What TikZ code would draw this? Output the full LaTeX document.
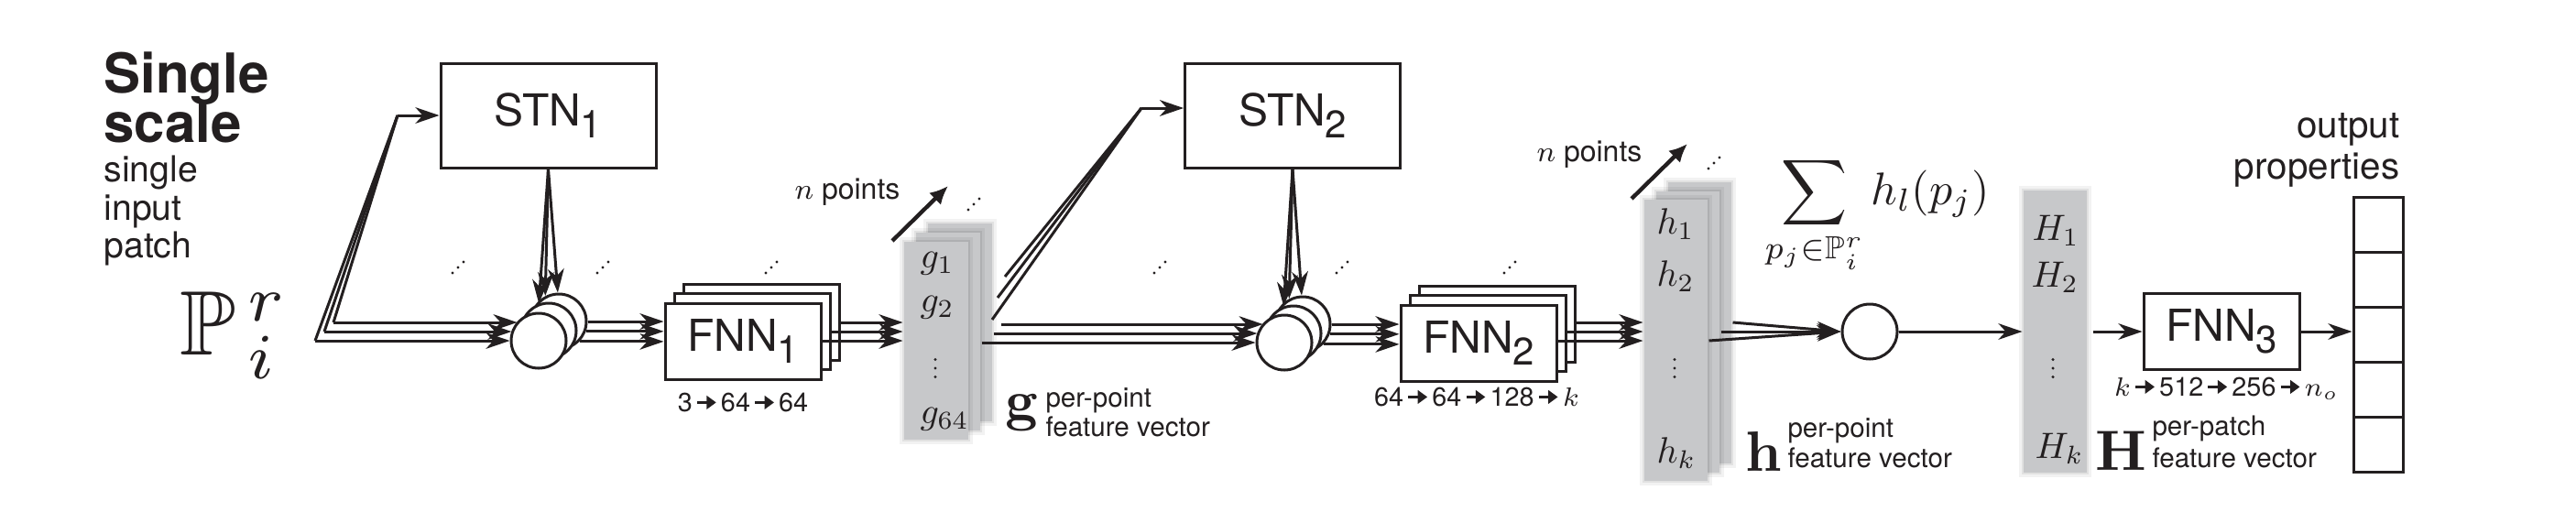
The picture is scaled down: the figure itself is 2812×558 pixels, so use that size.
\RequirePackage{fix-cm}
\documentclass[tikz,border=0pt]{standalone}
\usepackage{amssymb}
\usepackage{graphicx}
\usepackage[no-math]{fontspec}
\newfontfamily\hv{TeX Gyre Heros}
\usetikzlibrary{arrows.meta}
\definecolor{ink}{RGB}{35,31,32}
\definecolor{slabgray}{RGB}{199,200,202}
\newcommand\fsz[1]{\fontsize{#1}{#1}\selectfont}
\newcommand\mth[2]{\scalebox{#1}{$#2$}}
\newcommand\lsub[1]{\kern-0.2pt\raisebox{-3.2pt}{\fsz{10.5}#1}}
\newcommand\sarr{\kern0.9pt\tikz[baseline=0pt]\draw[ink,line width=0.8pt,-{Triangle[length=2.6pt,width=3.6pt]}](0pt,2.4pt)--(5.2pt,2.4pt);\kern0.9pt}
\newcommand\diagdots[2]{\fill[ink] ({#1-6},{#2+6}) circle[radius=1.7] (#1,#2) circle[radius=1.7] ({#1+6},{#2-6}) circle[radius=1.7];}
\newcommand\vdotsat[2]{\fill[ink] (#1,{#2-9.5}) circle[radius=1.7] (#1,#2) circle[radius=1.7] (#1,{#2+9.5}) circle[radius=1.7];}
\tikzset{
  netbox/.style={draw=ink,fill=white,line width=0.75pt,inner sep=0pt,font=\hv\fsz{12}},
  stnbox/.style={netbox,minimum width=58.75pt,minimum height=28.5pt},
  fnnbox/.style={netbox,minimum width=42.5pt,minimum height=20.75pt},
  sumnode/.style={circle,draw=ink,fill=white,line width=0.75pt,minimum size=15pt,inner sep=0pt},
  slab/.style={fill=slabgray,inner sep=0pt,
    preaction={draw=black,draw opacity=0.05,line width=2.6pt},
    preaction={draw=black,draw opacity=0.07,line width=1.2pt}},
  gslab/.style={slab,minimum width=17.5pt,minimum height=54pt},
  hslab/.style={slab,minimum width=17.25pt,minimum height=76.75pt},
  npts/.style={draw=ink,line width=1.1pt,-{Latex[length=5pt,width=4.6pt]}},
  txt/.style={inner sep=0pt,anchor=base west},
  mtxt/.style={inner sep=0pt,anchor=base west,font=\fsz{10}},
  outcell/.style={draw=ink,line width=0.75pt,minimum width=13.5pt,minimum height=15pt,inner sep=0pt},
}
\begin{document}
\begin{tikzpicture}[x=0.25pt,y=-0.25pt,line width=0.75pt,color=ink,
  >={Stealth[length=6.5pt,width=4.4pt,inset=2pt]}]
\useasboundingbox (0,0) rectangle (2812,558);

% ---------- left texts
\node[txt,font=\hv\bfseries\fsz{15}] (t1) at (112,101) {Single};
\node[txt,font=\hv\bfseries\fsz{15}] (t2) at (112,155) {scale};
\node[txt,font=\hv\fsz{9.8}] (t3) at (112,198) {single};
\node[txt,font=\hv\fsz{9.8}] (t4) at (112,240) {input};
\node[txt,font=\hv\fsz{9.8}] (t5) at (112,281) {patch};
\node[mtxt] (P) at (195,387) {\mth{2.5}{\mathbb{P}_{\kern1.3pt i}^{\kern1.3pt r}}};

% lane heights
\coordinate (ya) at (0,372); \coordinate (yb) at (0,362); \coordinate (yc) at (0,352);
\coordinate (ya2) at (0,374); \coordinate (yb2) at (0,364); \coordinate (yc2) at (0,354);

% ---------- stage 1
\coordinate (s1a) at (344,372); \coordinate (s1b) at (354,362); \coordinate (s1c) at (364,352);
\coordinate (j1) at (434,126);
\node[stnbox] (stn1) at (598.5,126) {STN\lsub{1}};
\node[sumnode] (c1c) at (610,351) {};
\node[sumnode] (c1b) at (599,361) {};
\node[sumnode] (c1a) at (588,372) {};
\draw (s1a) -- (j1); \draw (s1b) -- (j1); \draw (s1c) -- (j1);
\draw[->] (j1) -- (stn1.west);
\draw[->] (s1a) -- (s1a -| c1a.180);
\draw[->] (s1b) -- (s1b -| c1a.160);
\draw[->] (s1c) -- (s1c -| c1a.138);
\draw[->] (stn1.south) -- (c1b.110);
\draw[->] (stn1.south) -- (c1c.118);
\draw[->] (stn1.south) -- (c1c.92);
\diagdots{500}{292}
\diagdots{658}{292}

\node[fnnbox] (f1c) at (831,351.5) {};
\node[fnnbox] (f1b) at (821,362) {};
\node[fnnbox] (f1a) at (811,372.5) {FNN\lsub{1}};
\coordinate (c1o1) at (c1c.east);
\coordinate (c1o2) at (c1c.-20);
\coordinate (c1o3) at (c1c.-44);
\draw[->] (c1o1) -- (c1o1 -| f1a.west);
\draw[->] (c1o2) -- (c1o2 -| f1a.west);
\draw[->] (c1o3) -- (c1o3 -| f1a.west);
\node[inner sep=0pt,anchor=base,font=\hv\fsz{7.2}] (f1l) at (811,449) {3\sarr 64\sarr 64};
\diagdots{842}{292}

% g stack
\node[gslab] (g3) at (1048,352) {};
\node[gslab] (g2) at (1035,362) {};
\node[gslab] (g1) at (1022,372) {};
\node[mtxt] (g1t) at (1003,292) {$g_1$};
\node[mtxt] (g2t) at (1003,340) {$g_2$};
\vdotsat{1021}{402}
\node[mtxt] (g64t) at (1003,462) {$g_{64}$};
\draw[->] (f1c.east |- yc) -- (g1.west |- yc);
\draw[->] (f1b.east |- yb) -- (g1.west |- yb);
\draw[->] (f1a.east |- ya) -- (g1.west |- ya);
\node[txt,font=\hv\fsz{8}] (np1) at (866,217) {$n$ points};
\coordinate (na1) at (974,263); \coordinate (nb1) at (1035,203);
\draw[npts] (na1) -- (nb1);
\diagdots{1063}{223}
\node[mtxt] (gb) at (1096,458) {\mth{1.55}{\mathbf{g}}};
\node[txt,font=\hv\fsz{7.4}] (gpp) at (1140,444) {per-point};
\node[txt,font=\hv\fsz{7.4}] (gfv) at (1140,476) {feature vector};

% ---------- stage 2
\node[stnbox] (stn2) at (1411,126) {STN\lsub{2}};
\node[sumnode] (c2c) at (1422,354) {};
\node[sumnode] (c2b) at (1412,364) {};
\node[sumnode] (c2a) at (1402,374) {};
\coordinate (g3r) at ([xshift=2pt]g3.east);
\draw[->] (g2.east |- ya2) -- (ya2 -| c2a.180);
\draw[->] (g3.east |- yb2) -- (yb2 -| c2a.160);
\draw[->] (g3r |- yc2) -- (yc2 -| c2a.138);
\coordinate (d2a) at (1083,349); \coordinate (d2b) at (1089,325); \coordinate (d2c) at (1097,302);
\coordinate (j2) at (1246,118);
\draw (d2a) -- (j2); \draw (d2b) -- (j2); \draw (d2c) -- (j2);
\draw[->] (j2) -- (j2 -| stn2.west);
\draw[->] (stn2.south) -- (c2b.110);
\draw[->] (stn2.south) -- (c2c.118);
\draw[->] (stn2.south) -- (c2c.92);
\diagdots{1266}{292}
\diagdots{1465}{292}

\node[fnnbox] (f2c) at (1634,353.5) {};
\node[fnnbox] (f2b) at (1624,364) {};
\node[fnnbox] (f2a) at (1614,374.5) {FNN\lsub{2}};
\coordinate (c2o1) at (c2c.east);
\coordinate (c2o2) at (c2c.-20);
\coordinate (c2o3) at (c2c.-44);
\draw[->] (c2o1) -- (c2o1 -| f2a.west);
\draw[->] (c2o2) -- (c2o2 -| f2a.west);
\draw[->] (c2o3) -- (c2o3 -| f2a.west);
\node[inner sep=0pt,anchor=base,font=\hv\fsz{7.2}] (f2l) at (1612,443) {64\sarr 64\sarr 128\sarr $k$};
\diagdots{1648}{292}

% h stack
\node[hslab] (h3) at (1855.5,352.5) {};
\node[hslab] (h2) at (1842.5,362.5) {};
\node[hslab] (h1) at (1829.5,371.5) {};
\node[mtxt] (h1t) at (1807,255) {$h_1$};
\node[mtxt] (h2t) at (1807,312) {$h_2$};
\vdotsat{1828}{402}
\node[mtxt] (hkt) at (1807,505) {$h_k$};
\draw[->] (f2c.east |- yc) -- (h1.west |- yc);
\draw[->] (f2b.east |- yb) -- (h1.west |- yb);
\draw[->] (f2a.east |- ya) -- (h1.west |- ya);
\node[txt,font=\hv\fsz{8}] (np2) at (1676,176) {$n$ points};
\coordinate (na2) at (1781,217); \coordinate (nb2) at (1842,157);
\draw[npts] (na2) -- (nb2);
\diagdots{1871}{178}
\node[mtxt] (hb) at (1904,514) {\mth{1.55}{\mathbf{h}}};
\node[txt,font=\hv\fsz{7.4}] (hpp) at (1950,477) {per-point};
\node[txt,font=\hv\fsz{7.4}] (hfv) at (1950,510) {feature vector};

% ---------- stage 3
\node[mtxt] (sum) at (1925,223) {\mth{1.25}{\displaystyle\sum_{p_j\in\mathbb{P}_i^r} h_l(p_j)}};
\node[sumnode] (c3) at (2041,362) {};
\draw[->] (h3.east |- yc) -- (c3.west);
\draw[->] (h2.east |- yb) -- (c3.west);
\draw[->] (h1.east |- ya) -- (c3.west);
\node[slab,minimum width=17.25pt,minimum height=77pt] (Hs) at (2243.5,362) {};
\node[mtxt] (H1t) at (2217,262) {$H_1$};
\node[mtxt] (H2t) at (2216,313) {$H_2$};
\vdotsat{2241}{402}
\node[mtxt] (Hkt) at (2220,500) {$H_k$};
\draw[->] (c3.east) -- (c3.east -| Hs.west);
\node[mtxt] (Hb) at (2286,513) {\mth{1.55}{\mathbf{H}}};
\node[txt,font=\hv\fsz{7.4}] (Hpp) at (2348,475) {per-patch};
\node[txt,font=\hv\fsz{7.4}] (Hfv) at (2348,510) {feature vector};

\node[fnnbox] (f3) at (2425,362) {FNN\lsub{3}};
\draw[->,shorten <=1.4pt] (Hs.east) -- (f3.west);
\node[inner sep=0pt,anchor=base,font=\hv\fsz{7.2}] (f3l) at (2430,432) {$k$\sarr 512\sarr 256\sarr $n_o$};

\node[outcell] (o1) at (2596,245.5) {};
\node[outcell] (o2) at (2596,305.5) {};
\node[outcell] (o3) at (2596,365.5) {};
\node[outcell] (o4) at (2596,425.5) {};
\node[outcell] (o5) at (2596,485.5) {};
\draw[->] (f3.east) -- (f3.east -| o3.west);
\node[inner sep=0pt,anchor=base east,font=\hv\fsz{10.1}] (out1) at (2621,150) {output};
\node[inner sep=0pt,anchor=base east,font=\hv\fsz{10.1}] (out2) at (2621,195) {properties};
\end{tikzpicture}
\end{document}
